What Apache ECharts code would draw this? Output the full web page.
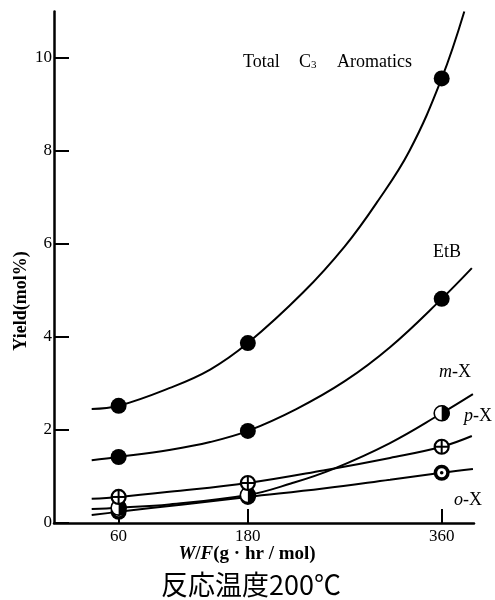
<!DOCTYPE html>
<html><head><meta charset="utf-8">
<script src="https://cdn.jsdelivr.net/npm/echarts@6/dist/echarts.min.js"></script>
<style>html,body{margin:0;padding:0;background:#fff}#c{width:495px;height:600px}</style>
</head><body><div id="c"></div>
<script>
// ---- data ----
const xTicks = [60, 180, 360];
const yTicks = [0, 2, 4, 6, 8, 10];
const markerX = [60, 180, 360];
const totalY = [2.52, 3.87, 9.56];
const etbY   = [1.42, 1.98, 4.82];
const mxY    = [0.33, 0.60, 2.36];
const pxY    = [0.56, 0.86, 1.64];
const oxY    = [0.24, 0.56, 1.08];
// fitted curves as traced on the picture
const totalCurve = [[35,2.45],[60,2.52],[107,2.9],[145,3.3],[180,3.87],[231,4.95],[270,5.95],[300,6.9],[330,8.0],[360,9.56],[381,11.0]];
const etbCurve   = [[35,1.35],[60,1.42],[107,1.57],[145,1.74],[180,1.98],[225,2.45],[270,3.05],[312,3.78],[360,4.82],[388,5.48]];
const mxCurve    = [[35,0.30],[60,0.33],[107,0.40],[180,0.60],[220,0.85],[259,1.16],[312,1.72],[360,2.36],[389,2.77]];
const pxCurve    = [[35,0.52],[60,0.56],[107,0.67],[180,0.86],[250,1.13],[312,1.40],[360,1.64],[388,1.87]];
const oxCurve    = [[35,0.17],[60,0.24],[120,0.40],[180,0.56],[250,0.74],[312,0.93],[360,1.08],[389,1.16]];

const pts = ys => markerX.map((x, i) => [x, ys[i]]);
const SERIF = '"Liberation Serif","DejaVu Serif",serif';

function curve(data){
  return {type:'line', data, smooth:0.4, symbol:'none',
    lineStyle:{color:'#000', width:2}, z:2, silent:true};
}
function marker(kind, data){
  return {type:'custom', coordinateSystem:'cartesian2d', data, z:5, clip:false,
    encode:{x:0,y:1},
    renderItem(params, api){
      const p = api.coord([api.value(0), api.value(1)]);
      const cx = p[0], cy = p[1];
      let ch = [];
      if (kind === 'm') {
        ch = [
          {type:'circle', shape:{cx, cy, r:7.5}, style:{fill:'#fff', stroke:'#000', lineWidth:1.6}},
          {type:'sector', shape:{cx, cy, r0:0, r:8, startAngle:-Math.PI/2, endAngle:Math.PI/2, clockwise:true}, style:{fill:'#000'}}
        ];
      } else if (kind === 'p') {
        ch = [
          {type:'circle', shape:{cx, cy, r:7}, style:{fill:'#fff', stroke:'#000', lineWidth:2.2}},
          {type:'line', shape:{x1:cx-7, y1:cy, x2:cx+7, y2:cy}, style:{stroke:'#000', lineWidth:2}},
          {type:'line', shape:{x1:cx, y1:cy-7, x2:cx, y2:cy+7}, style:{stroke:'#000', lineWidth:2}}
        ];
      } else {
        ch = [
          {type:'circle', shape:{cx, cy, r:8}, style:{fill:'#000'}},
          {type:'circle', shape:{cx, cy, r:4.5}, style:{fill:'#fff'}},
          {type:'circle', shape:{cx, cy, r:1.8}, style:{fill:'#000'}}
        ];
      }
      return {type:'group', children:ch};
    }};
}
const italic = size => ({i:{fontStyle:'italic', fontSize:size, fontFamily:SERIF}});

const chart = echarts.init(document.getElementById('c'), null, {renderer:'canvas'});
chart.setOption({
  animation:false,
  backgroundColor:'#fff',
  grid:{left:54, top:11.5, width:420, height:511.5, containLabel:false},
  xAxis:{type:'value', min:0, max:390,
    axisLine:{lineStyle:{color:'#000', width:2.5}},
    splitLine:{show:false},
    axisTick:{inside:true, length:14, customValues:xTicks, lineStyle:{color:'#000', width:2}},
    axisLabel:{customValues:xTicks, color:'#000', fontFamily:SERIF, fontSize:17, margin:5}
  },
  yAxis:{type:'value', min:0, max:11, interval:2,
    axisLine:{show:true, lineStyle:{color:'#000', width:2.5}},
    splitLine:{show:false},
    axisTick:{inside:true, length:15, customValues:yTicks, lineStyle:{color:'#000', width:2}},
    axisLabel:{customValues:yTicks, color:'#000', fontFamily:SERIF, fontSize:17, margin:2}
  },
  series:[
    curve(totalCurve), curve(etbCurve), curve(mxCurve), curve(pxCurve), curve(oxCurve),
    {type:'scatter', data:pts(totalY), symbol:'circle', symbolSize:16, itemStyle:{color:'#000', opacity:1}, z:5},
    {type:'scatter', data:pts(etbY), symbol:'circle', symbolSize:16, itemStyle:{color:'#000', opacity:1}, z:5},
    marker('o', pts(oxY)),
    marker('m', pts(mxY)),
    marker('p', pts(pxY))
  ],
  graphic:[
    {type:'text', x:243, y:62, style:{text:'Total', font:'18px '+SERIF, fill:'#000', verticalAlign:'middle'}},
    {type:'text', x:299, y:62, style:{text:'C{s|3}', font:'18px '+SERIF, fill:'#000', verticalAlign:'middle',
      rich:{s:{fontSize:11, fontFamily:SERIF, padding:[7,0,0,0]}}}},
    {type:'text', x:337, y:62, style:{text:'Aromatics', font:'18px '+SERIF, fill:'#000', verticalAlign:'middle'}},
    {type:'text', x:447, y:252, style:{text:'EtB', font:'18px '+SERIF, fill:'#000', align:'center', verticalAlign:'middle'}},
    {type:'text', x:455, y:372, style:{text:'{i|m}-X', font:'18px '+SERIF, fill:'#000', align:'center', verticalAlign:'middle', rich:italic(18)}},
    {type:'text', x:478, y:416, style:{text:'{i|p}-X', font:'18px '+SERIF, fill:'#000', align:'center', verticalAlign:'middle', rich:italic(18)}},
    {type:'text', x:468, y:500, style:{text:'{i|o}-X', font:'18px '+SERIF, fill:'#000', align:'center', verticalAlign:'middle', rich:italic(18)}},
    {type:'text', x:21, y:301, rotation:Math.PI/2, style:{text:'Yield(mol%)', font:'bold 18px '+SERIF, fill:'#000', align:'center', verticalAlign:'middle'}},
    {type:'text', x:247, y:554, style:{text:'{i|W}/{i|F}(g · hr / mol)', font:'bold 19px '+SERIF, fill:'#000', align:'center', verticalAlign:'middle',
      rich:{i:{fontStyle:'italic', fontWeight:'bold', fontSize:19, fontFamily:SERIF}}}},
    {type:'text', x:251, y:585, style:{text:'反応温度200℃', font:'27px "Noto Sans CJK JP"', fill:'#000', align:'center', verticalAlign:'middle'}}
  ]
});
</script></body></html>
